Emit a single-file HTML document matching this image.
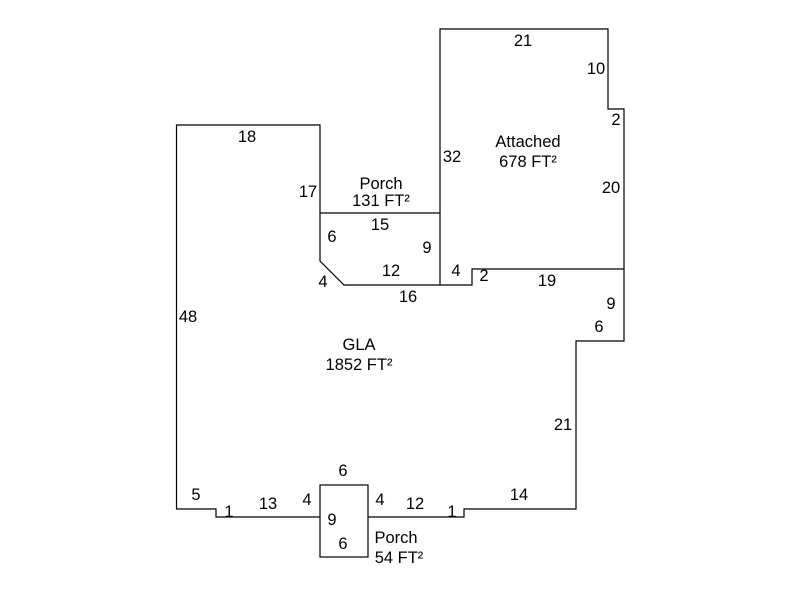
<!DOCTYPE html>
<html><head><style>
html,body{margin:0;padding:0;background:#fff;}
svg{display:block;}
text{font-family:"Liberation Sans",Arial,sans-serif;font-size:16.5px;fill:#000;text-anchor:middle;}
</style></head><body>
<svg width="800" height="600" viewBox="0 0 800 600" xmlns="http://www.w3.org/2000/svg">
<g fill="none" stroke="#000" stroke-width="1.2">
<polyline points="320,213 320,125 176.5,125 176.5,509 216,509 216,517 320,517"/>
<rect x="320" y="485" width="48" height="72"/>
<polyline points="368,517 464,517 464,509 576,509 576,341 624,341 624,269 472,269 472,285 344,285 320,261 320,213 440,213 440,285"/>
<polyline points="440,213 440,29 608,29 608,109 624,109 624,269"/>
</g>
<text x="523" y="46">21</text>
<text x="596" y="74">10</text>
<text x="616" y="125">2</text>
<text x="452" y="162">32</text>
<text x="528" y="147">Attached</text>
<text x="528" y="167">678 FT²</text>
<text x="611" y="193">20</text>
<text x="247" y="142">18</text>
<text x="308" y="197">17</text>
<text x="381" y="189">Porch</text>
<text x="381" y="206">131 FT²</text>
<text x="380" y="230">15</text>
<text x="332" y="242">6</text>
<text x="427" y="253">9</text>
<text x="391" y="276">12</text>
<text x="456" y="276">4</text>
<text x="484" y="281">2</text>
<text x="547" y="286">19</text>
<text x="323" y="287">4</text>
<text x="408" y="302">16</text>
<text x="611" y="309">9</text>
<text x="599" y="332">6</text>
<text x="188" y="322">48</text>
<text x="359" y="350">GLA</text>
<text x="359" y="370">1852 FT²</text>
<text x="563" y="430">21</text>
<text x="343" y="476">6</text>
<text x="196" y="500">5</text>
<text x="229" y="517">1</text>
<text x="268" y="509">13</text>
<text x="307" y="505">4</text>
<text x="380" y="505">4</text>
<text x="415" y="509">12</text>
<text x="452" y="517">1</text>
<text x="519" y="500">14</text>
<text x="332" y="525">9</text>
<text x="343" y="549">6</text>
<text x="396" y="543">Porch</text>
<text x="399" y="563">54 FT²</text>
</svg>
</body></html>
